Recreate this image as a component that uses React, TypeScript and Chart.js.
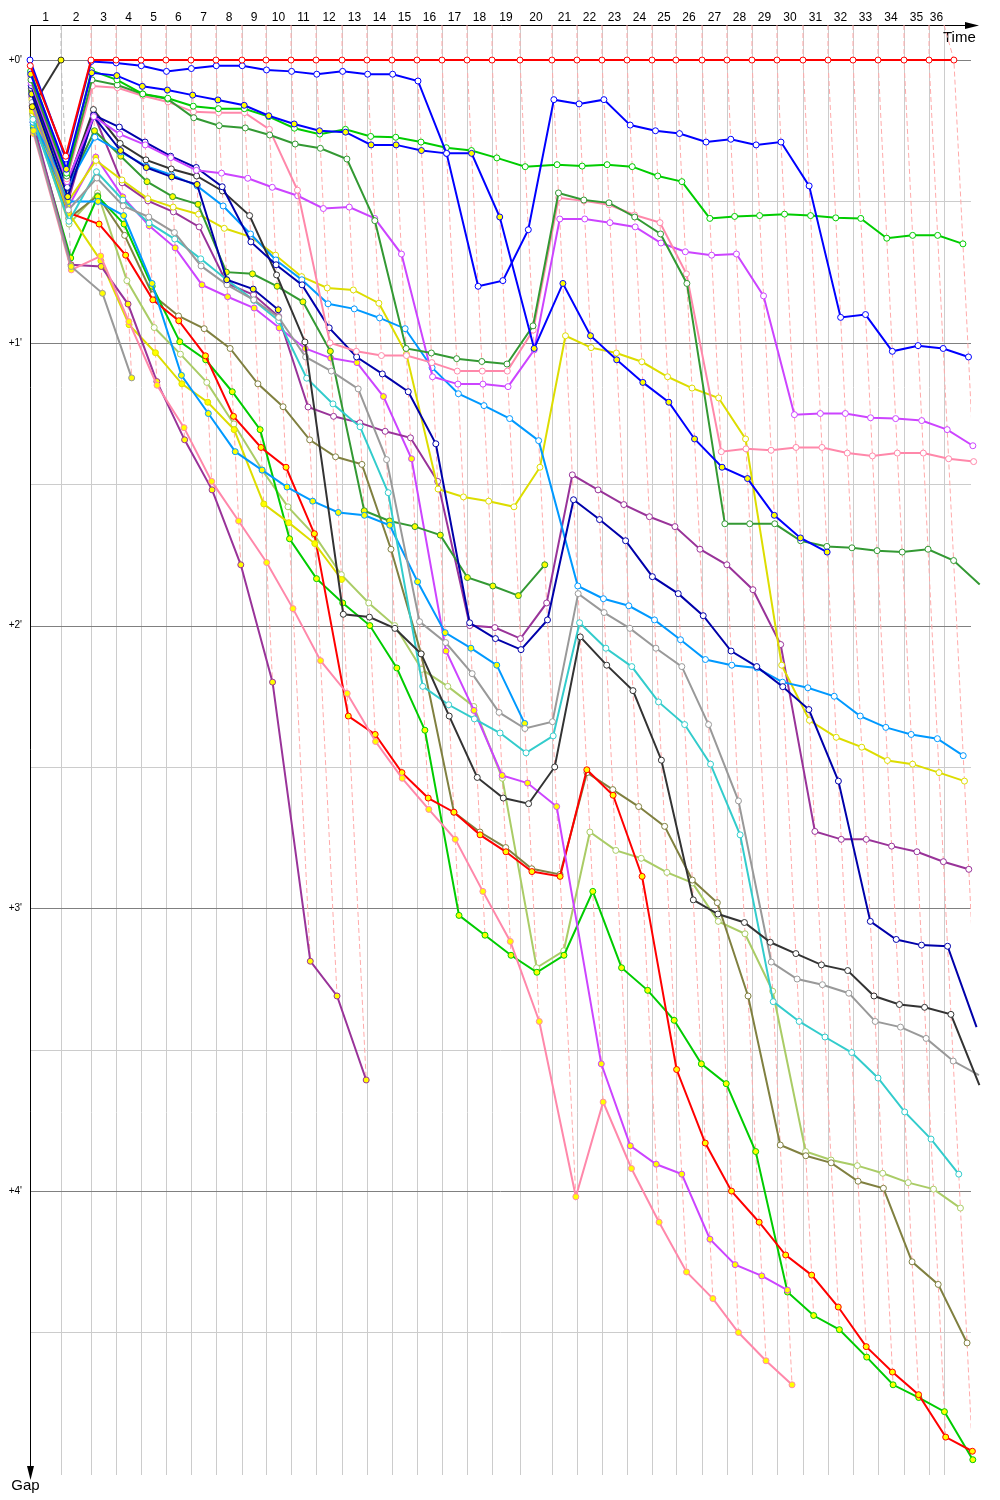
import React, { useEffect, useRef } from "react";
import { Chart, registerables } from "chart.js";

Chart.register(...registerables);

// Leader's elapsed time (minutes) at the end of each lap, lap 0..36
const lapTimes = [0, 2.23, 4.39, 6.19, 7.99, 9.78, 11.58, 13.38, 15.25, 16.98, 18.78, 20.58, 22.45, 24.24, 26.04, 27.84, 29.64, 31.44, 33.24, 35.25, 37.55, 39.35, 41.15, 42.95, 44.75, 46.47, 48.35, 50.14, 51.94, 53.74, 55.61, 57.41, 59.21, 61.01, 62.88, 64.68, 66.47];
const finishTime = 65.76;
const lapLabels = ["1", "2", "3", "4", "5", "6", "7", "8", "9", "10", "11", "12", "13", "14", "15", "16", "17", "18", "19", "20", "21", "22", "23", "24", "25", "26", "27", "28", "29", "30", "31", "32", "33", "34", "35", "36"];
const gapTicks = [0, 0.5, 1, 1.5, 2, 2.5, 3, 3.5, 4, 4.5];
const gapTickLabels = ["+0'", "", "+1'", "", "+2'", "", "+3'", "", "+4'", ""];

// Gaps to the leader (minutes), lap 0..n
const redW = [0.02, 0.34, 0, 0, 0, 0, 0, 0, 0, 0, 0, 0, 0, 0, 0, 0, 0, 0, 0, 0, 0, 0, 0, 0, 0, 0, 0, 0, 0, 0, 0, 0, 0, 0, 0, 0, 0];
const blueW = [0, 0.35, 0.005, 0.01, 0.02, 0.04, 0.03, 0.02, 0.02, 0.035, 0.04, 0.05, 0.04, 0.05, 0.05, 0.074, 0.33, 0.8, 0.78, 0.6, 0.14, 0.155, 0.14, 0.23, 0.25, 0.26, 0.29, 0.28, 0.3, 0.29, 0.445, 0.91, 0.9, 1.03, 1.01, 1.02, 1.05];
const blueY = [0.05, 0.386, 0.045, 0.055, 0.093, 0.106, 0.124, 0.141, 0.16, 0.197, 0.226, 0.25, 0.255, 0.3, 0.3, 0.32, 0.33, 0.33, 0.555, 1.02, 0.79, 0.975, 1.06, 1.14, 1.21, 1.34, 1.44, 1.48, 1.61, 1.69, 1.74];
const greenW = [0.04, 0.4, 0.037, 0.07, 0.12, 0.135, 0.163, 0.172, 0.172, 0.2, 0.241, 0.262, 0.245, 0.27, 0.273, 0.29, 0.31, 0.32, 0.346, 0.377, 0.37, 0.375, 0.37, 0.377, 0.41, 0.43, 0.56, 0.553, 0.55, 0.545, 0.55, 0.558, 0.56, 0.63, 0.62, 0.62, 0.65];
const dkgreenW = [0.07, 0.41, 0.07, 0.088, 0.12, 0.138, 0.204, 0.232, 0.24, 0.265, 0.297, 0.312, 0.35, 0.568, 1.02, 1.036, 1.056, 1.066, 1.075, 0.94, 0.47, 0.495, 0.505, 0.555, 0.615, 0.79, 1.64, 1.64, 1.64, 1.7, 1.72, 1.725, 1.735, 1.74, 1.73, 1.77, 1.855];
const pinkW = [0.06, 0.42, 0.092, 0.098, 0.126, 0.148, 0.183, 0.186, 0.186, 0.245, 0.46, 1.0, 1.03, 1.045, 1.045, 1.07, 1.1, 1.1, 1.1, 0.955, 0.487, 0.498, 0.512, 0.548, 0.575, 0.756, 1.385, 1.375, 1.38, 1.37, 1.37, 1.39, 1.4, 1.39, 1.39, 1.41, 1.42];
const violetW = [0.08, 0.43, 0.2, 0.262, 0.3, 0.345, 0.39, 0.4, 0.418, 0.45, 0.48, 0.525, 0.52, 0.56, 0.686, 1.12, 1.146, 1.146, 1.155, 1.025, 0.562, 0.562, 0.575, 0.59, 0.647, 0.678, 0.69, 0.686, 0.834, 1.254, 1.25, 1.25, 1.265, 1.268, 1.275, 1.307, 1.364];
const navyW = [0.09, 0.45, 0.195, 0.237, 0.29, 0.34, 0.38, 0.448, 0.643, 0.724, 0.795, 0.947, 1.05, 1.11, 1.173, 1.357, 1.99, 2.046, 2.085, 1.98, 1.555, 1.625, 1.7, 1.827, 1.887, 1.965, 2.09, 2.145, 2.216, 2.297, 2.55, 3.046, 3.11, 3.13, 3.134, 3.42];
const navyY = [0.12, 0.483, 0.2, 0.32, 0.38, 0.413, 0.44, 0.777, 0.81, 0.883];
const blackW = [0.1, 0.44, 0.175, 0.295, 0.353, 0.385, 0.41, 0.463, 0.55, 0.76, 0.997, 1.96, 1.97, 2.01, 2.1, 2.32, 2.537, 2.61, 2.63, 2.5, 2.04, 2.14, 2.23, 2.476, 2.97, 3.02, 3.05, 3.12, 3.16, 3.2, 3.22, 3.31, 3.34, 3.35, 3.375, 3.625];
const blackY = [0.165, 0];
const grayW = [0.15, 0.53, 0.417, 0.516, 0.555, 0.61, 0.728, 0.795, 0.848, 0.91, 1.05, 1.1, 1.163, 1.413, 1.986, 2.06, 2.17, 2.307, 2.364, 2.34, 1.887, 1.954, 2.01, 2.08, 2.145, 2.35, 2.62, 3.19, 3.25, 3.27, 3.3, 3.4, 3.42, 3.46, 3.54, 3.59];
const grayY = [0.25, 0.73, 0.825, 1.124];
const cyanW = [0.21, 0.57, 0.395, 0.495, 0.576, 0.633, 0.703, 0.777, 0.85, 0.922, 1.125, 1.216, 1.297, 1.53, 2.215, 2.28, 2.33, 2.38, 2.45, 2.39, 1.99, 2.08, 2.145, 2.27, 2.35, 2.49, 2.74, 3.33, 3.4, 3.455, 3.51, 3.6, 3.72, 3.816, 3.94];
const lightblueW = [0.22, 0.45, 0.273, 0.325, 0.375, 0.406, 0.445, 0.516, 0.615, 0.707, 0.777, 0.862, 0.88, 0.912, 0.95, 1.088, 1.18, 1.222, 1.268, 1.346, 1.86, 1.905, 1.93, 1.98, 2.05, 2.12, 2.14, 2.15, 2.2, 2.22, 2.25, 2.32, 2.36, 2.385, 2.4, 2.46];
const lightblueY = [0.23, 0.5, 0.5, 0.55, 0.79, 1.115, 1.25, 1.385, 1.45, 1.51, 1.56, 1.6, 1.61, 1.645, 1.845, 2.025, 2.08, 2.14, 2.346];
const dkgreenY = [0.11, 0.453, 0.25, 0.34, 0.43, 0.483, 0.51, 0.75, 0.756, 0.8, 0.855, 1.03, 1.594, 1.63, 1.65, 1.68, 1.83, 1.86, 1.894, 1.785];
const yellowW = [0.14, 0.5, 0.355, 0.424, 0.49, 0.52, 0.545, 0.595, 0.625, 0.69, 0.766, 0.806, 0.813, 0.86, 1.04, 1.517, 1.545, 1.56, 1.58, 1.44, 0.975, 1.017, 1.036, 1.067, 1.12, 1.16, 1.195, 1.34, 2.14, 2.335, 2.395, 2.43, 2.477, 2.49, 2.52, 2.55];
const purpleW = [0.13, 0.5, 0.19, 0.434, 0.498, 0.537, 0.59, 0.79, 0.83, 0.907, 1.227, 1.26, 1.283, 1.313, 1.336, 1.49, 2.0, 2.007, 2.046, 1.92, 1.467, 1.52, 1.572, 1.615, 1.65, 1.73, 1.785, 1.873, 2.067, 2.728, 2.756, 2.756, 2.78, 2.8, 2.835, 2.862];
const violetY = [0.16, 0.52, 0.343, 0.484, 0.586, 0.664, 0.795, 0.837, 0.877, 0.947, 1.02, 1.054, 1.07, 1.19, 1.41, 2.09, 2.3, 2.53, 2.557, 2.64, 3.55, 3.84, 3.905, 3.94, 4.17, 4.26, 4.3, 4.35];
const pinkY = [0.26, 0.742, 0.693, 0.925, 1.15, 1.3, 1.49, 1.63, 1.777, 1.94, 2.124, 2.24, 2.41, 2.54, 2.65, 2.756, 2.94, 3.117, 3.4, 4.02, 3.685, 3.92, 4.11, 4.286, 4.38, 4.5, 4.6, 4.685];
const purpleY = [0.22, 0.724, 0.73, 0.863, 1.137, 1.343, 1.52, 1.785, 2.2, 3.187, 3.31, 3.607];
const yellowY = [0.18, 0.54, 0.71, 0.936, 1.035, 1.145, 1.21, 1.307, 1.57, 1.636, 1.71, 1.837];
const redY = [0.17, 0.54, 0.58, 0.69, 0.848, 0.922, 1.046, 1.26, 1.37, 1.44, 1.675, 2.32, 2.385, 2.52, 2.61, 2.66, 2.74, 2.8, 2.87, 2.887, 2.51, 2.6, 2.887, 3.57, 3.83, 4.0, 4.11, 4.226, 4.297, 4.41, 4.55, 4.64, 4.72, 4.87, 4.92];
const greenY = [0.24, 0.7, 0.483, 0.58, 0.8, 0.996, 1.06, 1.173, 1.307, 1.693, 1.834, 1.92, 2.0, 2.15, 2.37, 3.025, 3.095, 3.166, 3.226, 3.166, 2.94, 3.21, 3.29, 3.396, 3.55, 3.62, 3.86, 4.357, 4.44, 4.49, 4.587, 4.685, 4.73, 4.78, 4.95];
const oliveW = [0.19, 0.56, 0.48, 0.62, 0.83, 0.905, 0.95, 1.02, 1.145, 1.226, 1.343, 1.403, 1.43, 1.73, 2.1, 2.66, 2.73, 2.785, 2.86, 2.88, 2.52, 2.58, 2.64, 2.71, 2.9, 2.98, 3.31, 3.837, 3.875, 3.9, 3.965, 3.99, 4.25, 4.33, 4.537];
const lightoliveW = [0.2, 0.58, 0.47, 0.78, 0.946, 1.04, 1.14, 1.287, 1.45, 1.58, 1.68, 1.82, 1.92, 2.0, 2.155, 2.215, 2.286, 2.54, 3.21, 3.15, 2.73, 2.795, 2.823, 2.873, 2.91, 3.046, 3.09, 3.293, 3.86, 3.89, 3.91, 3.937, 3.97, 3.993, 4.06];

const WHITE = "#ffffff";
const YELLOW = "#ffff00";

const seriesList = [
  { color: "#ff0000", marker: WHITE, gaps: redW },
  { color: "#0000ff", marker: WHITE, gaps: blueW },
  { color: "#0000ff", marker: YELLOW, gaps: blueY },
  { color: "#00cc00", marker: WHITE, gaps: greenW },
  { color: "#339933", marker: WHITE, gaps: dkgreenW },
  { color: "#ff88aa", marker: WHITE, gaps: pinkW },
  { color: "#cc44ff", marker: WHITE, gaps: violetW },
  { color: "#0000aa", marker: WHITE, gaps: navyW },
  { color: "#0000aa", marker: YELLOW, gaps: navyY },
  { color: "#333333", marker: WHITE, gaps: blackW },
  { color: "#333333", marker: YELLOW, gaps: blackY },
  { color: "#999999", marker: WHITE, gaps: grayW },
  { color: "#999999", marker: YELLOW, gaps: grayY },
  { color: "#33cccc", marker: WHITE, gaps: cyanW },
  { color: "#0099ff", marker: WHITE, gaps: lightblueW },
  { color: "#0099ff", marker: YELLOW, gaps: lightblueY },
  { color: "#339933", marker: YELLOW, gaps: dkgreenY },
  { color: "#dddd00", marker: WHITE, gaps: yellowW },
  { color: "#993399", marker: WHITE, gaps: purpleW },
  { color: "#cc44ff", marker: YELLOW, gaps: violetY },
  { color: "#ff88aa", marker: YELLOW, gaps: pinkY },
  { color: "#993399", marker: YELLOW, gaps: purpleY },
  { color: "#dddd00", marker: YELLOW, gaps: yellowY },
  { color: "#ff0000", marker: YELLOW, gaps: redY },
  { color: "#00cc00", marker: YELLOW, gaps: greenY },
  { color: "#808040", marker: WHITE, gaps: oliveW },
  { color: "#aacc66", marker: WHITE, gaps: lightoliveW },
];

const Y_MIN = -0.124;
const Y_MAX = 5.004;
const X_MAX = 67.7;

const gridTimes = [...lapTimes.slice(1, 36), finishTime];
const lapBounds = [0, ...gridTimes];

const framePlugin = {
  id: "frame",
  beforeDatasetsDraw(chart: any) {
    const { ctx, chartArea: a, scales } = chart;
    const x = scales.x;
    const y = scales.y;
    ctx.save();
    ctx.lineWidth = 1;
    // vertical lap grid
    ctx.strokeStyle = "#cccccc";
    for (const t of gridTimes) {
      const px = Math.round(x.getPixelForValue(t)) + 0.5;
      ctx.beginPath();
      ctx.moveTo(px, a.top);
      ctx.lineTo(px, a.bottom);
      ctx.stroke();
    }
    // horizontal gap grid
    gapTicks.forEach((v) => {
      const py = Math.round(y.getPixelForValue(v)) + 0.5;
      ctx.strokeStyle = Number.isInteger(v) ? "#808080" : "#cccccc";
      ctx.beginPath();
      ctx.moveTo(a.left, py);
      ctx.lineTo(a.right, py);
      ctx.stroke();
    });
    // gap labels
    ctx.fillStyle = "#000000";
    ctx.font = '10px "Liberation Sans"';
    ctx.textAlign = "right";
    ctx.textBaseline = "middle";
    gapTicks.forEach((v, i) => {
      if (gapTickLabels[i]) ctx.fillText(gapTickLabels[i], a.left - 8, y.getPixelForValue(v));
    });
    // lap labels
    ctx.font = '12px "Liberation Sans"';
    ctx.textAlign = "center";
    lapLabels.forEach((lab, i) => {
      const cx = (x.getPixelForValue(lapBounds[i]) + x.getPixelForValue(lapBounds[i + 1])) / 2;
      ctx.fillText(lab, cx, 17.5);
    });
    // axes
    ctx.strokeStyle = "#000000";
    ctx.lineWidth = 1;
    const ax = a.left + 0.5;
    const ay = a.top + 0.5;
    ctx.beginPath();
    ctx.moveTo(ax, ay);
    ctx.lineTo(a.right + 2, ay);
    ctx.moveTo(ax, ay);
    ctx.lineTo(ax, a.bottom - 2);
    ctx.stroke();
    ctx.fillStyle = "#000000";
    ctx.beginPath();
    ctx.moveTo(a.right + 8, ay);
    ctx.lineTo(a.right - 6, ay - 3.5);
    ctx.lineTo(a.right - 6, ay + 3.5);
    ctx.closePath();
    ctx.fill();
    ctx.beginPath();
    ctx.moveTo(ax, a.bottom + 5);
    ctx.lineTo(ax - 3.5, a.bottom - 9);
    ctx.lineTo(ax + 3.5, a.bottom - 9);
    ctx.closePath();
    ctx.fill();
    ctx.font = '15px "Liberation Sans"';
    ctx.textAlign = "left";
    ctx.textBaseline = "alphabetic";
    ctx.fillText("Time", a.right - 28, 41.5);
    ctx.textAlign = "center";
    ctx.fillText("Gap", ax - 5, a.bottom + 15);
    ctx.restore();
  },
};

export default function App() {
  const canvasRef = useRef<HTMLCanvasElement | null>(null);

  useEffect(() => {
    const canvas = canvasRef.current;
    if (!canvas) return;

    const seriesDatasets = seriesList.map((s) => ({
      type: "line",
      data: s.gaps.map((g, lap) => ({ x: lapTimes[lap] + g, y: g })),
      borderColor: s.color,
      backgroundColor: s.color,
      borderWidth: 2,
      pointRadius: 3,
      pointHoverRadius: 3,
      pointBorderWidth: 1,
      pointBackgroundColor: s.marker,
      pointBorderColor: s.color,
      tension: 0,
      clip: false,
      order: 0,
    }));

    const dashDatasets = lapLabels.map((_, i) => {
      const lap = i + 1;
      let maxGap = 0;
      for (const s of seriesList) {
        const g = s.gaps[lap];
        if (g !== undefined && g !== null && g > maxGap) maxGap = g;
      }
      return {
        type: "line",
        data: [
          { x: lapBounds[lap], y: Y_MIN },
          { x: lapTimes[lap], y: 0 },
          { x: lapTimes[lap] + maxGap, y: maxGap },
        ],
        borderColor: lap === 1 ? "#bbbbbb" : "#ffaaaa",
        borderWidth: 1,
        borderDash: [5, 3],
        pointRadius: 0,
        pointHoverRadius: 0,
        tension: 0,
        order: 1,
      };
    });

    const chart = new Chart(canvas, {
      type: "line",
      data: { datasets: [...seriesDatasets, ...dashDatasets] as any },
      options: {
        responsive: false,
        devicePixelRatio: 1,
        animation: false,
        layout: { padding: { left: 30, top: 25, right: 29, bottom: 25 } },
        scales: {
          x: { type: "linear", display: false, min: 0, max: X_MAX },
          y: { type: "linear", display: false, reverse: true, min: Y_MIN, max: Y_MAX },
        },
        plugins: { legend: { display: false }, tooltip: { enabled: false } },
        events: [],
      },
      plugins: [framePlugin],
    } as any);

    return () => chart.destroy();
  }, []);

  return (
    <div style={{ position: "absolute", left: 0, top: 0, width: 1000, height: 1500, background: "#ffffff" }}>
      <canvas ref={canvasRef} width={1000} height={1500} style={{ display: "block" }} />
    </div>
  );
}
